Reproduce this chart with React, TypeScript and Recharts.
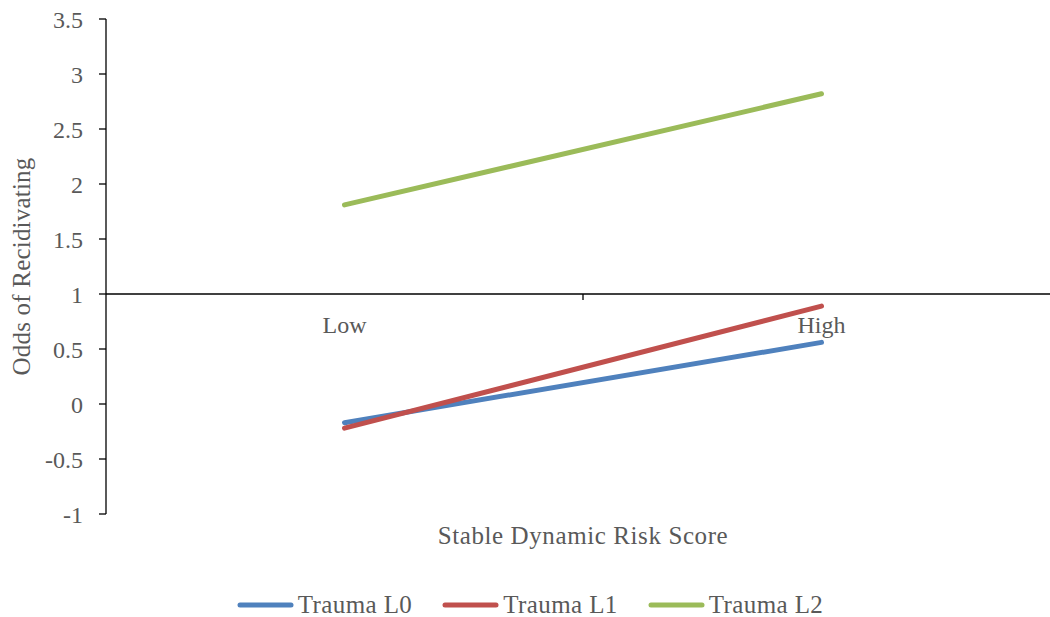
import React from 'react';
import {
  LineChart,
  Line,
  XAxis,
  YAxis,
  ReferenceLine,
  ReferenceDot,
  Legend,
} from 'recharts';

// Risk levels on the horizontal axis
const categories = ['Low', 'High'];

// Odds of recidivating per trauma level
const traumaL0 = [-0.17, 0.56];
const traumaL1 = [-0.22, 0.89];
const traumaL2 = [1.81, 2.82];

const yTicks = [-1, -0.5, 0, 0.5, 1, 1.5, 2, 2.5, 3, 3.5];

const seriesNames = ['Trauma L0', 'Trauma L1', 'Trauma L2'];
const seriesColors = ['#4F81BD', '#C0504D', '#9BBB59'];

// each category sits in the middle of its own unit band
const data = categories.map((category, i) => ({
  category,
  pos: i + 0.5,
  L0: traumaL0[i],
  L1: traumaL1[i],
  L2: traumaL2[i],
}));

const FONT = '"Liberation Serif", "DejaVu Serif", serif';
const TEXT = '#595959';

const LegendContent = (props: any) => {
  const payload = props.payload || [];
  return (
    <div
      style={{
        height: 63,
        boxSizing: 'border-box',
        paddingTop: 36,
        display: 'flex',
        justifyContent: 'center',
        gap: 30,
        fontFamily: FONT,
        fontSize: 25,
        letterSpacing: 0.4,
        color: TEXT,
      }}
    >
      {payload.map((p: any) => (
        <div key={p.value} style={{ display: 'flex', alignItems: 'center', height: 30 }}>
          <svg width={57} height={8} style={{ marginRight: 4 }}>
            <line x1={3} y1={4} x2={54} y2={4} stroke={p.color} strokeWidth={5} strokeLinecap="round" />
          </svg>
          <span style={{ lineHeight: '30px', whiteSpace: 'nowrap' }}>{p.value}</span>
        </div>
      ))}
    </div>
  );
};

const YTitle = (props: any) => {
  const vb = props.viewBox || { x: 0, y: 0, height: 0 };
  const cx = 30;
  const cy = vb.y + vb.height / 2;
  return (
    <text
      x={cx}
      y={cy}
      transform={`rotate(-90, ${cx}, ${cy})`}
      textAnchor="middle"
      fill={TEXT}
      fontSize={25}
      letterSpacing={0.2}
      fontFamily={FONT}
    >
      Odds of Recidivating
    </text>
  );
};

export default function App() {
  return (
    <div
      style={{
        position: 'absolute',
        left: 0,
        top: 0,
        width: 1050,
        height: 617,
        overflow: 'hidden',
        background: '#fff',
      }}
    >
      <LineChart
        width={1062}
        height={617}
        data={data}
        margin={{ top: 19, right: 2, left: 0, bottom: 0 }}
        style={{ fontFamily: FONT }}
      >
        <XAxis
          dataKey="pos"
          type="number"
          domain={[0, 2]}
          ticks={[]}
          tick={false}
          axisLine={false}
          tickLine={false}
          height={40}
          label={{
            value: 'Stable Dynamic Risk Score',
            position: 'insideTop',
            offset: 12,
            fill: TEXT,
            fontSize: 25,
            letterSpacing: 0.6,
            fontFamily: FONT,
          }}
        />
        <YAxis
          type="number"
          domain={[-1, 3.5]}
          ticks={yTicks}
          interval={0}
          width={106}
          axisLine={{ stroke: '#000', strokeWidth: 1.3 }}
          tickLine={{ stroke: '#000', strokeWidth: 1.3 }}
          tickSize={7}
          tickMargin={16}
          tick={{ fill: TEXT, fontSize: 24, fontFamily: FONT }}
          label={<YTitle />}
        />
        {/* horizontal axis crossing at odds = 1 */}
        <ReferenceLine y={1} stroke="#000" strokeWidth={1.5} />
        <ReferenceLine
          segment={[
            { x: 1, y: 1 },
            { x: 1, y: 0.945 },
          ]}
          stroke="#000"
          strokeWidth={1.3}
        />
        {data.map((d) => (
          <ReferenceDot
            key={d.category}
            x={d.pos}
            y={1}
            r={0}
            fill="none"
            stroke="none"
            label={{
              value: d.category,
              position: 'bottom',
              offset: 22,
              fill: TEXT,
              fontSize: 24,
              fontFamily: FONT,
            }}
          />
        ))}
        {['L0', 'L1', 'L2'].map((key, i) => (
          <Line
            key={key}
            type="linear"
            dataKey={key}
            name={seriesNames[i]}
            stroke={seriesColors[i]}
            strokeWidth={5}
            strokeLinecap="round"
            dot={false}
            activeDot={false}
            isAnimationActive={false}
          />
        ))}
        <Legend verticalAlign="bottom" content={<LegendContent />} />
      </LineChart>
    </div>
  );
}
